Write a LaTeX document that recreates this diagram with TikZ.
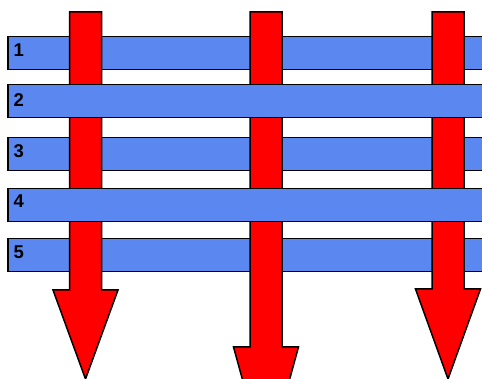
\documentclass[tikz,border=0pt]{standalone}
\usepackage{fontspec}
\setmainfont{Liberation Sans}
\definecolor{barblue}{RGB}{90,135,240}
\tikzset{
  bar/.style={draw=black, fill=barblue, line width=1.5pt, anchor=north west,
    minimum width=490pt, minimum height=33pt, inner sep=0pt},
  num/.style={anchor=west, inner sep=0pt, font=\fontsize{18.5}{18.5}\selectfont\bfseries},
  arrowbody/.style={draw=black, fill=red, line width=1.5pt, line join=miter}
}
% shaft from y=12 down to the head, head from #2 to the tip at #3
\newcommand{\redarrow}[3]{%
  \draw[arrowbody] (#1-16,12) -- (#1+16,12) -- (#1+16,#2) -- (#1+32.5,#2)
    -- (#1,#3) -- (#1-32.5,#2) -- (#1-16,#2) -- cycle;}
\begin{document}
\begin{tikzpicture}[x=1pt,y=-1pt]
	\clip (0,0) rectangle (482,379);

	% bars under the arrows
	\node[bar] (bar1) at (7,36)    {};
	\node[num] (lab1) at (13.5,50) {1};
	\node[bar] (bar3) at (7,137)   {};
	\node[num] (lab3) at (13.5,151) {3};
	\node[bar] (bar5) at (7,238)   {};
	\node[num] (lab5) at (13.5,252.5) {5};

	% the three arrows
	\redarrow{85.5}{290}{379}
	\redarrow{266}{347}{465}
	\redarrow{448}{289}{379}

	% bars over the arrows
	\node[bar] (bar2) at (7,84)    {};
	\node[num] (lab2) at (13.5,100.5) {2};
	\node[bar] (bar4) at (7,188)   {};
	\node[num] (lab4) at (13.5,201) {4};
\end{tikzpicture}
\end{document}
